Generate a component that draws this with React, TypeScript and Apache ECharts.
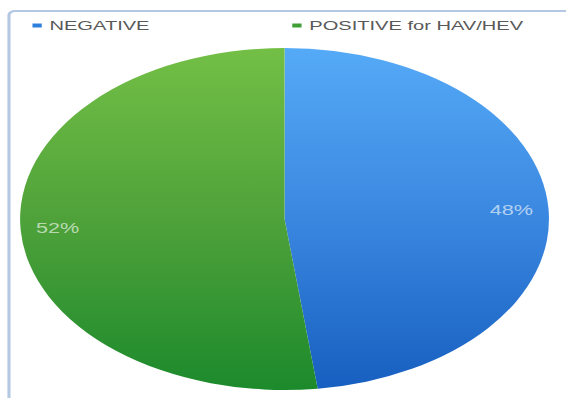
import React, { useEffect, useRef } from "react";
import * as echarts from "echarts";

const categories = ["NEGATIVE", "POSITIVE for HAV/HEV"];
const values = [48, 52];
const legendColors = ["#2f80dc", "#3f9f35"];

const FULL_W = 566;
const FULL_H = 398;
const STRETCH = 1.5464;
const INNER_W = FULL_W / STRETCH;

export default function App() {
  const ref = useRef<HTMLDivElement>(null);

  useEffect(() => {
    if (!ref.current) return;
    const chart = echarts.init(ref.current, undefined, {
      renderer: "svg",
      width: INNER_W,
      height: FULL_H,
    });
    const fills = [
      new echarts.graphic.LinearGradient(0, 0, 0, 1, [
        { offset: 0, color: "#55aaf7" },
        { offset: 0.5, color: "#3a87e0" },
        { offset: 1, color: "#175fc0" },
      ]),
      new echarts.graphic.LinearGradient(0, 0, 0, 1, [
        { offset: 0, color: "#73bf46" },
        { offset: 0.5, color: "#4fa23a" },
        { offset: 1, color: "#1c8a2c" },
      ]),
    ];
    const font = "'Liberation Sans', Arial, sans-serif";
    const legendBase = {
      top: 19,
      padding: 0,
      icon: "rect",
      itemWidth: 6,
      itemHeight: 4,
      selectedMode: false,
      textStyle: { fontSize: 13, color: "#595959", fontFamily: font },
    };
    chart.setOption({
      animation: false,
      backgroundColor: "#ffffff",
      graphic: [
        {
          type: "rect",
          silent: true,
          shape: { x: 5.8, y: 11, width: 600, height: 600, r: 4 },
          style: { fill: "none", stroke: "#b4c8e4", lineWidth: 2 },
        },
      ],
      legend: [
        {
          ...legendBase,
          data: [{ name: categories[0], itemStyle: { color: legendColors[0] } }],
          left: 21,
        },
        {
          ...legendBase,
          data: [{ name: categories[1], itemStyle: { color: legendColors[1] } }],
          left: 189,
        },
      ],
      series: [
        {
          type: "pie",
          center: [184, 219],
          radius: [0, 171],
          startAngle: 90,
          clockwise: true,
          silent: true,
          label: { show: false },
          labelLine: { show: false },
          data: categories.map((c, i) => ({
            name: c,
            value: values[i],
            itemStyle: { color: fills[i] },
          })),
        },
        {
          type: "pie",
          center: [184, 219],
          radius: [0, 288],
          startAngle: 90,
          clockwise: true,
          silent: true,
          itemStyle: { color: "rgba(0,0,0,0)" },
          label: {
            show: true,
            position: "inside",
            formatter: "{d}%",
            fontSize: 14,
            color: "rgba(255,255,255,0.62)",
            fontFamily: font,
          },
          labelLine: { show: false },
          data: categories.map((c, i) => ({ name: c, value: values[i] })),
        },
      ],
    });
    return () => chart.dispose();
  }, []);

  return (
    <div
      style={{
        position: "fixed",
        left: 0,
        top: 0,
        width: FULL_W,
        height: FULL_H,
        overflow: "hidden",
        background: "#ffffff",
      }}
    >
      <div
        ref={ref}
        style={{
          width: INNER_W,
          height: FULL_H,
          transform: `scaleX(${STRETCH})`,
          transformOrigin: "0 0",
        }}
      />
    </div>
  );
}
